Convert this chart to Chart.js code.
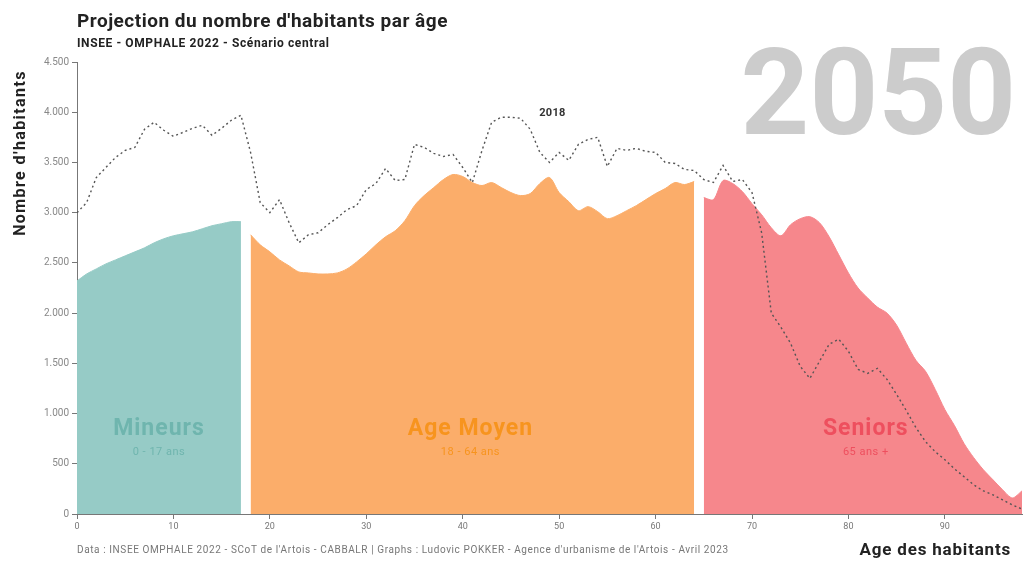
<!DOCTYPE html>
<html>
<head>
<meta charset="utf-8">
<script src="https://cdn.jsdelivr.net/npm/chart.js@4"></script>
<style>
  html, body { margin: 0; padding: 0; background: #fff; }
  #wrap { width: 1023px; height: 562px; position: relative; }
</style>
</head>
<body>
<div id="wrap"><canvas id="popChart"></canvas></div>
<script>
// ages (années)
let ages = [0,1,2,3,4,5,6,7,8,9,10,11,12,13,14,15,16,17,18,19,20,21,22,23,24,25,26,27,28,29,30,
  31,32,33,34,35,36,37,38,39,40,41,42,43,44,45,46,47,48,49,50,51,52,53,54,55,56,57,58,59,60,
  61,62,63,64,65,66,67,68,69,70,71,72,73,74,75,76,77,78,79,80,81,82,83,84,85,86,87,88,89,90,
  91,92,93,94,95,96,97,98];

// 2018 (pointillés)
let pop2018 = [3000,3100,3350,3450,3550,3620,3650,3830,3900,3820,3760,3800,3840,3870,3770,3840,3920,3970,
  3600,3100,3000,3130,2900,2700,2780,2800,2880,2950,3030,3070,3230,3290,3440,3320,3330,3680,3650,3590,3560,
  3580,3450,3300,3620,3900,3950,3950,3940,3830,3600,3500,3600,3520,3680,3730,3750,3460,3640,3620,3640,3610,
  3600,3500,3490,3430,3420,3330,3300,3470,3310,3330,3200,2800,2000,1860,1700,1470,1350,1520,1690,1740,1620,
  1440,1400,1450,1340,1190,1030,860,720,620,540,450,370,290,230,190,140,90,50];

// 2050 par tranche
let mineurs2050 = [2320,2390,2440,2490,2530,2570,2610,2650,2700,2740,2770,2790,2810,2840,2870,2890,2910,2910];
let moyen2050 = [2780,2680,2610,2530,2470,2410,2400,2390,2390,2400,2440,2510,2590,2680,2760,2820,2920,3070,
  3170,3250,3330,3380,3360,3300,3270,3300,3250,3200,3170,3190,3290,3350,3200,3110,3020,3060,3010,2940,2970,
  3020,3070,3130,3190,3240,3300,3280,3310];
let seniors2050 = [3150,3130,3320,3290,3210,3090,2980,2850,2770,2880,2940,2960,2900,2760,2580,2400,2250,
  2150,2060,2000,1880,1700,1530,1420,1240,1040,880,700,560,440,340,240,160,230];

let yTicks = [0,500,1000,1500,2000,2500,3000,3500,4000,4500];
let xTicks = [0,10,20,30,40,50,60,70,80,90];

function toPoints(startAge, values) {
    let pts = [];
    let i0 = ages.indexOf(startAge);
    values.forEach((v, i) => pts.push({ x: ages[i0 + i], y: v }));
    return pts;
}

function fmt(v) {
    return String(v).replace(/\B(?=(\d{3})+(?!\d))/g, '.');
}

function txt(ctx, s, x, y, font, color, spacing) {
    ctx.font = font;
    ctx.fillStyle = color;
    ctx.letterSpacing = (spacing || 0) + 'px';
    ctx.fillText(s, x, y);
    ctx.letterSpacing = '0px';
}

// textes dessinés sur le canvas
const textPlugin = {
    id: 'texts',
    beforeDatasetsDraw(chart) {
        const ctx = chart.ctx;
        ctx.save();
        ctx.textAlign = 'right';
        ctx.textBaseline = 'alphabetic';
        txt(ctx, '2050', 1016, 134, 'bold 120px Roboto', '#cccccc');
        ctx.restore();
    },
    afterDraw(chart) {
        const ctx = chart.ctx;
        const xs = chart.scales.x;
        const ys = chart.scales.y;
        ctx.save();
        ctx.textBaseline = 'alphabetic';
        ctx.textAlign = 'left';
        txt(ctx, "Projection du nombre d'habitants par âge", 77, 27, 'bold 19px Roboto', '#222', 0.5);
        txt(ctx, 'INSEE - OMPHALE 2022 - Scénario central', 77, 47, 'bold 12px Roboto', '#222', 0.6);
        txt(ctx, "Data : INSEE OMPHALE 2022 - SCoT de l'Artois - CABBALR | Graphs : Ludovic POKKER - Agence d'urbanisme de l'Artois - Avril 2023",
            77, 553, '10px Roboto', '#777', 0.6);

        ctx.textAlign = 'right';
        txt(ctx, 'Age des habitants', 1011, 555, 'bold 17px Roboto', '#222', 0.8);

        ctx.save();
        ctx.translate(25, 153);
        ctx.rotate(-Math.PI / 2);
        ctx.textAlign = 'center';
        txt(ctx, "Nombre d'habitants", 0, 0, 'bold 16px Roboto', '#222', 1.4);
        ctx.restore();

        ctx.textAlign = 'center';
        txt(ctx, '2018', xs.getPixelForValue(49.3), ys.getPixelForValue(3960), 'bold 11px Roboto', '#333', 0.3);

        const groups = [
            { t: 'Mineurs', s: '0 - 17 ans', age: 8.5, c: '#6fb5ae' },
            { t: 'Age Moyen', s: '18 - 64 ans', age: 40.8, c: '#f7941e' },
            { t: 'Seniors', s: '65 ans +', age: 81.8, c: '#ee4f5e' }
        ];
        groups.forEach(g => {
            const px = xs.getPixelForValue(g.age);
            txt(ctx, g.t, px, ys.getPixelForValue(790), 'bold 23px Roboto', g.c, 1);
            txt(ctx, g.s, px, ys.getPixelForValue(590), '11px Roboto', g.c, 0.5);
        });
        ctx.restore();
    }
};

new Chart(document.getElementById('popChart'), {
    type: 'line',
    data: {
        datasets: [
            {
                label: '2018',
                data: toPoints(0, pop2018),
                borderColor: '#555',
                borderWidth: 1.4,
                borderDash: [2, 3],
                pointRadius: 0,
                fill: false,
                tension: 0,
                order: 0
            },
            {
                label: 'Mineurs',
                data: toPoints(0, mineurs2050),
                backgroundColor: '#96cbc6',
                borderColor: '#96cbc6',
                borderWidth: 1,
                pointRadius: 0,
                fill: 'origin',
                tension: 0.3,
                order: 1
            },
            {
                label: 'Age Moyen',
                data: toPoints(18, moyen2050),
                backgroundColor: '#fbad6a',
                borderColor: '#fbad6a',
                borderWidth: 1,
                pointRadius: 0,
                fill: 'origin',
                tension: 0.3,
                order: 1
            },
            {
                label: 'Seniors',
                data: toPoints(65, seniors2050),
                backgroundColor: '#f6878c',
                borderColor: '#f6878c',
                borderWidth: 1,
                pointRadius: 0,
                fill: 'origin',
                tension: 0.3,
                order: 1
            }
        ]
    },
    options: {
        responsive: true,
        maintainAspectRatio: false,
        animation: false,
        layout: { padding: { top: 62, right: 1, left: 0, bottom: 0 } },
        plugins: {
            legend: { display: false },
            tooltip: { enabled: false }
        },
        scales: {
            x: {
                type: 'linear',
                min: 0,
                max: 98,
                afterFit: (s) => { s.height = 48; },
                afterBuildTicks: (s) => { s.ticks = xTicks.map(v => ({ value: v })); },
                border: { color: '#777', width: 1 },
                grid: { drawOnChartArea: false, drawTicks: true, tickLength: 5, color: '#777' },
                ticks: { color: '#777', font: { family: 'Roboto', size: 9 }, padding: 2, maxRotation: 0 }
            },
            y: {
                min: 0,
                max: 4500,
                afterFit: (s) => { s.width = 77; },
                afterBuildTicks: (s) => { s.ticks = yTicks.map(v => ({ value: v })); },
                border: { color: '#777', width: 1 },
                grid: { drawOnChartArea: false, drawTicks: true, tickLength: 5, color: '#777' },
                ticks: { color: '#888', font: { family: 'Roboto', size: 10 }, padding: 3, callback: (v) => fmt(v) }
            }
        }
    },
    plugins: [textPlugin]
});
</script>
</body>
</html>
